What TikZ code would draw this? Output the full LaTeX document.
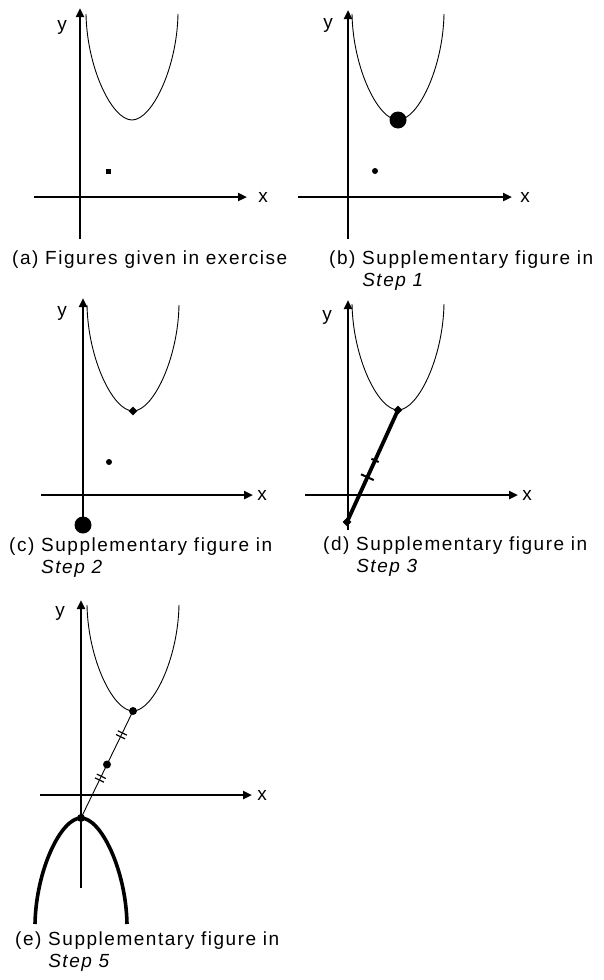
\documentclass[tikz,border=0pt]{standalone}
\usepackage{fontspec}
\setmainfont{Liberation Sans}[LetterSpace=8]
\usetikzlibrary{arrows.meta,calc,shapes.geometric}
\begin{document}
\begin{tikzpicture}[x=1pt,y=-1pt,
  axis/.style={line width=2.4pt,-{Triangle[length=9pt,width=8pt]}},
  curve/.style={line width=0.9pt},
  thickcurve/.style={line width=3.6pt},
  segthick/.style={line width=3.8pt},
  segthin/.style={line width=0.9pt},
  tickmark/.style={line width=1.2pt},
  lbl/.style={inner sep=0pt,font=\fontsize{19}{22}\selectfont},
  captext/.style={anchor=base west,inner sep=0pt,font=\fontsize{19}{22}\selectfont},
  sqdot/.style={rectangle,fill=black,inner sep=0pt,minimum size=5pt},
  smalldot/.style={circle,fill=black,inner sep=0pt,minimum size=6pt},
  middot/.style={circle,fill=black,inner sep=0pt,minimum size=8pt},
  bigdot/.style={circle,fill=black,inner sep=0pt,minimum size=17pt},
  dia/.style={diamond,fill=black,inner sep=0pt,minimum size=9pt},
  ushape/.pic={\draw (-46,-106) .. controls (-45,-52) and (-20,0) .. (0,0)
                 .. controls (20,0) and (45,-52) .. (46,-106);}]
\useasboundingbox (0,0) rectangle (603,980);
\fill[white] (0,0) rectangle (603,980);

% ---------- panel (a)
\coordinate (aYb) at (80,239); \coordinate (aYt) at (80,8);
\coordinate (aXl) at (34,197); \coordinate (aXr) at (247,197);
\draw[axis] (aYb) -- (aYt);
\draw[axis] (aXl) -- (aXr);
\node[lbl] (ay) at (62,27) {y};
\node[lbl] (ax) at (263,197) {x};
\coordinate (aV) at (132,120);
\pic[curve] at (aV) {ushape};
\node[sqdot] (aP) at (108,171) {};
\node[captext] (capa) at (12,264) {\begin{tabular}[t]{@{}l@{}}(a) Figures given in exercise\end{tabular}};

% ---------- panel (b)
\coordinate (bYb) at (348,239); \coordinate (bYt) at (348,10);
\coordinate (bXl) at (298,197); \coordinate (bXr) at (512,197);
\draw[axis] (bYb) -- (bYt);
\draw[axis] (bXl) -- (bXr);
\node[lbl] (by) at (328,25) {y};
\node[lbl] (bx) at (525,197) {x};
\coordinate (bV) at (398,120);
\pic[curve] at (bV) {ushape};
\node[bigdot] (bVd) at (bV) {};
\node[smalldot] (bP) at (375,171) {};
\node[captext] (capb) at (329,264) {\begin{tabular}[t]{@{}l@{}}(b) Supplementary figure in\\\phantom{(b) }\textit{Step 1}\end{tabular}};

% ---------- panel (c)
\coordinate (cYb) at (83,525); \coordinate (cYt) at (83,298);
\coordinate (cXl) at (41,495); \coordinate (cXr) at (253,495);
\draw[axis] (cYb) -- (cYt);
\draw[axis] (cXl) -- (cXr);
\node[lbl] (cy) at (62,313) {y};
\node[lbl] (cx) at (262,495) {x};
\coordinate (cV) at (133,411);
\pic[curve] at (cV) {ushape};
\node[dia] (cVd) at (cV) {};
\node[smalldot] (cP) at (109,462) {};
\node[bigdot] (cQ) at (83,525) {};
\node[captext] (capc) at (9,551) {\begin{tabular}[t]{@{}l@{}}(c) Supplementary figure in\\\phantom{(c) }\textit{Step 2}\end{tabular}};

% ---------- panel (d)
\coordinate (dYb) at (348,530); \coordinate (dYt) at (348,300);
\coordinate (dXl) at (305,495); \coordinate (dXr) at (518,495);
\draw[axis] (dYb) -- (dYt);
\draw[axis] (dXl) -- (dXr);
\node[lbl] (dy) at (327,317) {y};
\node[lbl] (dx) at (527,495) {x};
\coordinate (dV) at (398,410);
\pic[curve] at (dV) {ushape};
\coordinate (dE) at (347,522);
\draw[segthick] (dV) -- (dE);
\coordinate (dT1) at ($(dV)!0.45!(dE)$);
\coordinate (dT2) at ($(dV)!0.60!(dE)$);
\draw[tickmark,line width=2pt] ($(dT1)!4pt!90:(dE)$) -- ($(dT1)!4pt!-90:(dE)$);
\draw[tickmark,line width=2pt] ($(dT2)!7pt!90:(dE)$) -- ($(dT2)!7pt!-90:(dE)$);
\node[dia] (dVd) at (dV) {};
\node[dia] (dEd) at (dE) {};
\node[captext] (capd) at (323,550) {\begin{tabular}[t]{@{}l@{}}(d) Supplementary figure in\\\phantom{(d) }\textit{Step 3}\end{tabular}};

% ---------- panel (e)
\coordinate (eYb) at (81,888); \coordinate (eYt) at (81,600);
\coordinate (eXl) at (40,795); \coordinate (eXr) at (252,795);
\draw[axis] (eYb) -- (eYt);
\draw[axis] (eXl) -- (eXr);
\node[lbl] (ey) at (60,613) {y};
\node[lbl] (ex) at (262,795) {x};
\coordinate (eV) at (133,711);
\pic[curve] at (eV) {ushape};
\coordinate (eW) at (81,818);
\pic[thickcurve,yscale=-1] at (eW) {ushape};
\draw[segthin] (eV) -- (eW);
\foreach \t in {0.205,0.24,0.61,0.645}{
  \coordinate (eT) at ($(eV)!\t!(eW)$);
  \draw[tickmark] ($(eT)!5pt!90:(eW)$) -- ($(eT)!5pt!-90:(eW)$);
}
\node[middot] (eVd) at (eV) {};
\node[middot] (eM) at ($(eV)!0.5!(eW)$) {};
\node[middot] (eWd) at (eW) {};
\node[captext] (cape) at (15,945) {\begin{tabular}[t]{@{}l@{}}(e) Supplementary figure in\\\phantom{(e) }\textit{Step 5}\end{tabular}};
\end{tikzpicture}
\end{document}
